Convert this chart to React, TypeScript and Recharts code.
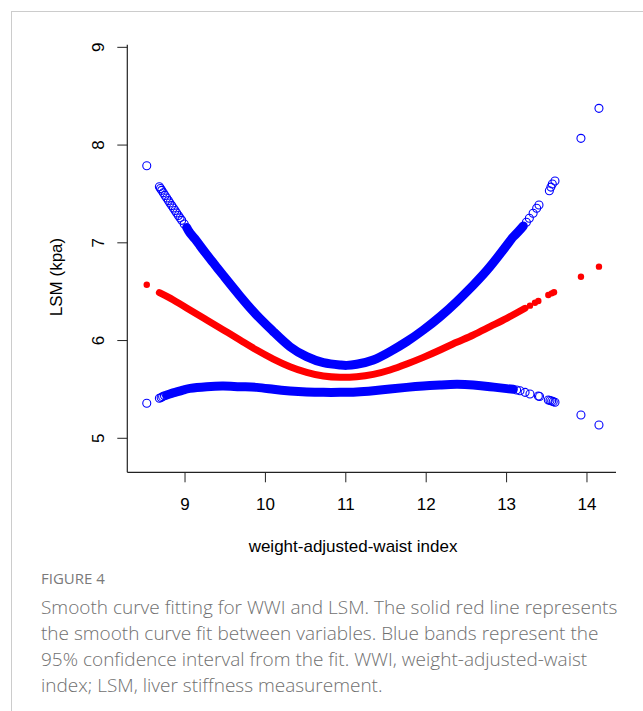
import React from 'react';
import { ComposedChart, Line, Scatter, XAxis, YAxis } from 'recharts';

// ---- data ----
const xTicks = [9, 10, 11, 12, 13, 14];
const yTicks = [5, 6, 7, 8, 9];

// upper 95% CI : dense part (drawn as a band) and sparse circles
const upperDense: [number, number][] = [
  [9.021, 7.157], [9.062, 7.1], [9.124, 7.04], [9.187, 6.97], [9.27, 6.88],
  [9.332, 6.815], [9.394, 6.75], [9.477, 6.665], [9.684, 6.455], [9.891, 6.261],
  [10.099, 6.091], [10.306, 5.937], [10.513, 5.835], [10.721, 5.774], [10.928, 5.75],
  [11.01, 5.746], [11.135, 5.757], [11.342, 5.801], [11.55, 5.886], [11.757, 5.989],
  [11.964, 6.108], [12.172, 6.244], [12.379, 6.398], [12.586, 6.568], [12.794, 6.756],
  [13.035, 7.011], [13.084, 7.062], [13.146, 7.114], [13.208, 7.172],
];
const upperSparse: [number, number][] = [
  [8.524, 7.789],
  [8.681, 7.574], [8.695, 7.556], [8.71, 7.537], [8.73, 7.512], [8.751, 7.485],
  [8.772, 7.458], [8.793, 7.432], [8.812, 7.408], [8.834, 7.381], [8.855, 7.356],
  [8.876, 7.33], [8.896, 7.305], [8.917, 7.28], [8.938, 7.255], [8.959, 7.23],
  [8.99, 7.193],
  [13.246, 7.21], [13.283, 7.251], [13.33, 7.302], [13.374, 7.353], [13.403, 7.387],
  [13.532, 7.533], [13.551, 7.57], [13.569, 7.601], [13.602, 7.632],
  [13.925, 8.069], [14.149, 8.376],
];

// fitted curve
const fitDense: [number, number][] = [
  [8.681, 6.49], [8.855, 6.415], [9.062, 6.313], [9.27, 6.21], [9.477, 6.108],
  [9.684, 6.006], [9.891, 5.903], [10.099, 5.811], [10.306, 5.733], [10.513, 5.675],
  [10.721, 5.637], [10.928, 5.624], [11.135, 5.63], [11.342, 5.654], [11.55, 5.699],
  [11.757, 5.76], [11.964, 5.828], [12.172, 5.903], [12.379, 5.982], [12.586, 6.057],
  [12.794, 6.142], [13.001, 6.227], [13.229, 6.33],
];
const fitSparse: [number, number][] = [
  [8.524, 6.571], [13.291, 6.357], [13.353, 6.387], [13.395, 6.405], [13.519, 6.466],
  [13.561, 6.483], [13.59, 6.494], [13.925, 6.653], [14.149, 6.756],
];

// lower 95% CI
const lowerDense: [number, number][] = [
  [8.772, 5.443], [8.834, 5.46], [8.896, 5.474], [8.979, 5.494], [9.062, 5.511],
  [9.27, 5.528], [9.477, 5.535], [9.684, 5.528], [9.891, 5.521], [10.099, 5.501],
  [10.306, 5.484], [10.513, 5.474], [10.721, 5.47], [10.928, 5.47], [11.135, 5.474],
  [11.342, 5.487], [11.55, 5.504], [11.757, 5.521], [11.964, 5.535], [12.172, 5.545],
  [12.379, 5.552], [12.586, 5.545], [12.794, 5.528], [13.001, 5.508], [13.084, 5.501],
];
const lowerSparse: [number, number][] = [
  [8.524, 5.358], [8.681, 5.409], [8.703, 5.418], [8.722, 5.426], [8.745, 5.435],
  [13.125, 5.494], [13.167, 5.487], [13.23, 5.47], [13.291, 5.453], [13.395, 5.433],
  [13.41, 5.428], [13.519, 5.392], [13.54, 5.387], [13.561, 5.382], [13.58, 5.375],
  [13.602, 5.368], [13.925, 5.238], [14.149, 5.136],
];

const captionLines = [
  'Smooth curve fitting for WWI and LSM. The solid red line represents',
  'the smooth curve fit between variables. Blue bands represent the',
  '95% confidence interval from the fit. WWI, weight-adjusted-waist',
  'index; LSM, liver stiffness measurement.',
];

const toObj = (arr: [number, number][]) => arr.map(([x, y]) => ({ x, y }));

const BLUE = '#0000ff';
const RED = '#ff0000';
const FONT = '"Liberation Sans", Arial, Helvetica, sans-serif';

const OpenCircle = (p: any) => (
  <circle cx={p.cx} cy={p.cy} r={4} fill="none" stroke={BLUE} strokeWidth={1.1} />
);
const Dot = (p: any) => <circle cx={p.cx} cy={p.cy} r={3.2} fill={RED} />;

const YTick = (p: any) => (
  <text
    transform={`translate(${p.x - 11},${p.y}) rotate(-90)`}
    textAnchor="middle"
    fontSize={17}
    fontFamily={FONT}
    fill="#000"
  >
    {p.payload.value}
  </text>
);

export default function App() {
  return (
    <div style={{ position: 'absolute', left: 0, top: 0, width: 643, height: 711, background: '#fff' }}>
      <div
        style={{
          position: 'absolute', left: 11, top: 11, right: 0, bottom: 0,
          borderTop: '1px solid #cccccc', borderLeft: '1px solid #cccccc',
        }}
      />
      <div style={{ position: 'absolute', left: 0, top: 0 }}>
        <ComposedChart width={643} height={562} margin={{ top: 44.7, right: 27, left: 0, bottom: 0 }}>
          <XAxis
            dataKey="x"
            type="number"
            domain={[8.282, 14.361]}
            ticks={xTicks}
            allowDataOverflow
            height={89.7}
            tickSize={10}
            tickMargin={15.7}
            axisLine={{ stroke: '#222', strokeWidth: 1.2 }}
            tickLine={{ stroke: '#222' }}
            tick={{ fill: '#000', fontSize: 17, fontFamily: FONT }}
            label={{
              content: (lp: any) => {
                const vb = lp.viewBox || {};
                return (
                  <text
                    x={vb.x + vb.width / 2 - 18.6}
                    y={546}
                    textAnchor="middle"
                    dominantBaseline="central"
                    fontSize={17}
                    fontFamily={FONT}
                    fill="#000"
                  >
                    weight-adjusted-waist index
                  </text>
                );
              },
            }}
          />
          <XAxis
            xAxisId="top"
            orientation="top"
            type="number"
            domain={[8.282, 14.361]}
            height={0}
            tick={false}
            tickLine={false}
            axisLine={{ stroke: '#222', strokeWidth: 1.2 }}
          />
          <YAxis
            type="number"
            domain={[4.652, 9.027]}
            ticks={yTicks}
            allowDataOverflow
            width={127.3}
            tickSize={10}
            tickMargin={2}
            axisLine={{ stroke: '#222', strokeWidth: 1.2 }}
            tickLine={{ stroke: '#222' }}
            tick={<YTick />}
            label={{
              content: () => (
                <text
                  transform="translate(56,277) rotate(-90)"
                  textAnchor="middle"
                  dominantBaseline="central"
                  fontSize={17}
                  fontFamily={FONT}
                  fill="#000"
                >
                  LSM (kpa)
                </text>
              ),
            }}
          />
          <YAxis
            yAxisId="right"
            orientation="right"
            type="number"
            domain={[4.652, 9.027]}
            width={0}
            tick={false}
            tickLine={false}
            axisLine={{ stroke: '#222', strokeWidth: 1.2 }}
          />
          <Line
            data={toObj(upperDense)}
            dataKey="y"
            type="natural"
            stroke={BLUE}
            strokeWidth={9}
            strokeLinecap="round"
            strokeLinejoin="round"
            dot={false}
            activeDot={false}
            isAnimationActive={false}
          />
          <Line
            data={toObj(lowerDense)}
            dataKey="y"
            type="natural"
            stroke={BLUE}
            strokeWidth={9}
            strokeLinecap="round"
            strokeLinejoin="round"
            dot={false}
            activeDot={false}
            isAnimationActive={false}
          />
          <Line
            data={toObj(fitDense)}
            dataKey="y"
            type="natural"
            stroke={RED}
            strokeWidth={7}
            strokeLinecap="round"
            strokeLinejoin="round"
            dot={false}
            activeDot={false}
            isAnimationActive={false}
          />
          <Scatter data={toObj(upperSparse)} dataKey="y" shape={<OpenCircle />} isAnimationActive={false} />
          <Scatter data={toObj(lowerSparse)} dataKey="y" shape={<OpenCircle />} isAnimationActive={false} />
          <Scatter data={toObj(fitSparse)} dataKey="y" shape={<Dot />} isAnimationActive={false} />
        </ComposedChart>
      </div>
      <div
        style={{
          position: 'absolute', left: 41, top: 569, fontFamily: '"Open Sans", "Noto Sans", sans-serif',
          fontSize: 15, lineHeight: '18px', color: '#7a7a7a', whiteSpace: 'nowrap',
        }}
      >
        FIGURE 4
      </div>
      <div
        style={{
          position: 'absolute', left: 41, top: 594, fontFamily: '"Open Sans", "Noto Sans", sans-serif',
          fontSize: 19, fontWeight: 300, lineHeight: '26px', color: '#707070', whiteSpace: 'nowrap',
        }}
      >
        {captionLines.map((l, i) => (
          <div key={i}>{l}</div>
        ))}
      </div>
    </div>
  );
}
